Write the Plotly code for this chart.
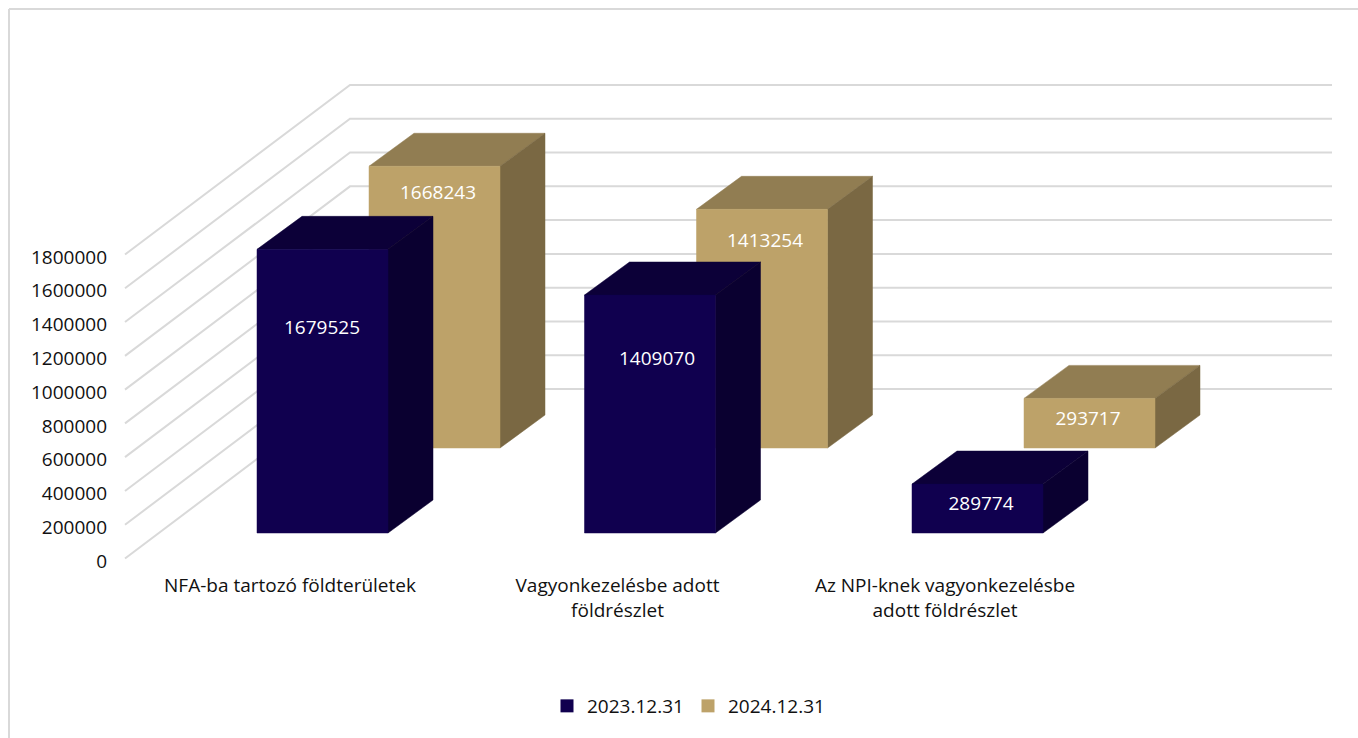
import plotly.graph_objects as go

categories = ["NFA-ba tartozó földterületek", "Vagyonkezelésbe adott<br>földrészlet", "Az NPI-knek vagyonkezelésbe<br>adott földrészlet"]
series_names = ["2023.12.31", "2024.12.31"]
values_2023 = [1679525, 1409070, 289774]
values_2024 = [1668243, 1413254, 293717]
y_ticks = [0, 200000, 400000, 600000, 800000, 1000000, 1200000, 1400000, 1600000, 1800000]

W, H = 1358, 738
L, R, T, B = 108, 1340, 60, 572
Y0_PX = 558.5
PX_PER_VAL = 304 / 1800000
PX_PER_CAT = 327.5
X0_PX = 290
FONT = "Open Sans"
FS = 19
GRID = "#D9D9D9"
TICK_LABEL_DROP = 2.5

def dx(px):
    return px / PX_PER_CAT

def dy(px):
    return px / PX_PER_VAL

# Oblique projection: depth shifts expressed in pixels, converted to axis units
FLOOR_DX, FLOOR_DY = 225, 169.5
FRONT_LEFT = -165 / PX_PER_CAT
BACK_RIGHT = (1332 - X0_PX) / PX_PER_CAT
BAR_W, BAR_DX, BAR_DY = 131, 45, 33

styles = [
    dict(values=values_2023, name=series_names[0], front="#10004F", top="#0C0038", side="#0A0030",
         sx=32.5, sy=25.5, label_dx=[-0.5, 7, 3.5], label_drop=[80, 65, 21]),
    dict(values=values_2024, name=series_names[1], front="#BDA269", top="#917D52", side="#7A6843",
         sx=144.5, sy=110.5, label_dx=[3.5, 3, -1.5], label_drop=[28, 33, 22]),
]

fig = go.Figure()

# Gridlines: left wall and back wall
gx, gy = [], []
for v in y_ticks:
    gx += [FRONT_LEFT, FRONT_LEFT + dx(FLOOR_DX), BACK_RIGHT, None]
    gy += [v, v + dy(FLOOR_DY), v + dy(FLOOR_DY), None]
fig.add_trace(go.Scatter(x=gx, y=gy, mode="lines", line=dict(color=GRID, width=2),
                         hoverinfo="skip", showlegend=False))

def poly(xs, ys, color):
    fig.add_trace(go.Scatter(x=xs, y=ys, mode="lines", fill="toself", fillcolor=color,
                             line=dict(color=color, width=0.5), hoverinfo="skip", showlegend=False))

for s in reversed(styles):
    for i, v in enumerate(s["values"]):
        x1 = i + dx(s["sx"] - BAR_W / 2)
        x2 = x1 + dx(BAR_W)
        y1 = dy(s["sy"])
        y2 = y1 + v
        ox, oy = dx(BAR_DX), dy(BAR_DY)
        poly([x1, x2, x2 + ox, x1 + ox, x1], [y2, y2, y2 + oy, y2 + oy, y2], s["top"])
        poly([x2, x2 + ox, x2 + ox, x2, x2], [y1, y1 + oy, y2 + oy, y2, y1], s["side"])
        poly([x1, x2, x2, x1, x1], [y1, y1, y2, y2, y1], s["front"])
    fig.add_trace(go.Scatter(
        x=[i + dx(s["sx"] + s["label_dx"][i]) for i in range(3)],
        y=[dy(s["sy"]) + v - dy(s["label_drop"][i]) for i, v in enumerate(s["values"])],
        text=[str(v) for v in s["values"]], mode="text",
        textfont=dict(color="white", size=FS, family=FONT), textposition="middle center",
        hoverinfo="skip", showlegend=False))

for s in styles:
    fig.add_trace(go.Scatter(x=[None], y=[None], mode="markers", name=s["name"],
                             marker=dict(symbol="square", size=13, color=s["front"])))

fig.add_shape(type="line", xref="paper", yref="paper",
              x0=(9 - L) / (R - L), x1=(W - L) / (R - L), y0=(B - 9) / (B - T), y1=(B - 9) / (B - T),
              line=dict(color=GRID, width=2))
fig.add_shape(type="line", xref="paper", yref="paper",
              x0=(9 - L) / (R - L), x1=(9 - L) / (R - L), y0=(B - 9) / (B - T), y1=(B - H) / (B - T),
              line=dict(color=GRID, width=2))

fig.update_layout(
    width=W, height=H, autosize=False,
    margin=dict(l=L, r=W - R, t=T, b=H - B, pad=0),
    paper_bgcolor="white", plot_bgcolor="white",
    font=dict(family=FONT, size=FS, color="#111111"),
    xaxis=dict(range=[(L - X0_PX) / PX_PER_CAT, (R - X0_PX) / PX_PER_CAT],
               tickmode="array", tickvals=[0, 1, 2], ticktext=categories,
               showgrid=False, zeroline=False, showline=False, ticks="", tickangle=0,
               fixedrange=True),
    yaxis=dict(range=[(Y0_PX - B) / PX_PER_VAL, (Y0_PX - T) / PX_PER_VAL],
               tickmode="array", tickvals=[v - dy(TICK_LABEL_DROP) for v in y_ticks],
               ticktext=[str(v) for v in y_ticks],
               showgrid=False, zeroline=False, showline=False, ticks="", fixedrange=True),
    legend=dict(orientation="h", xref="container", yref="container",
                x=688 / W, xanchor="center", y=(H - 706) / H, yanchor="middle",
                entrywidth=96, entrywidthmode="pixels",
                font=dict(size=FS, family=FONT), itemclick=False, itemdoubleclick=False),
)

fig.write_html("out.html", config={"displayModeBar": False},
               post_script="document.body.style.margin='0';document.body.style.overflow='hidden';")
